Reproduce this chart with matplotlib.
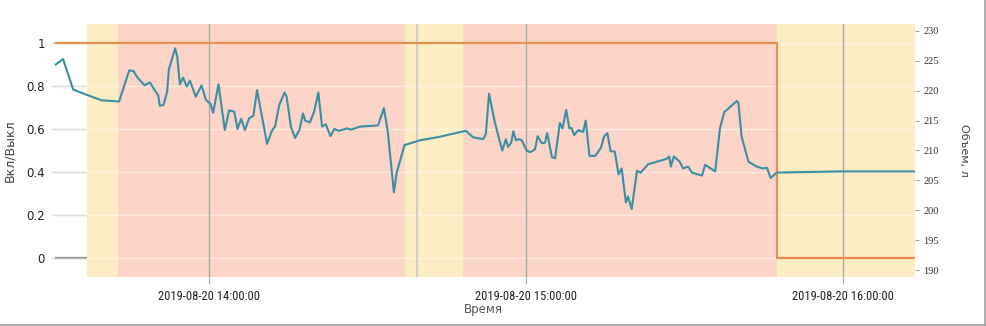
import numpy as np
import pandas as pd
import matplotlib
matplotlib.use("Agg")
import matplotlib.pyplot as plt
import matplotlib.dates as mdates
from matplotlib.lines import Line2D
from matplotlib import font_manager

# --- data (time given as minutes after 2019-08-20 13:00) ---
base = pd.Timestamp("2019-08-20 13:00:00")

vol_min = [31.0, 32.4, 34.3, 36.9, 39.7, 43.0, 44.9, 45.7, 46.4, 47.8, 48.8, 50.4, 50.7, 51.4,
           52.1, 52.4, 53.6, 54.0, 54.5, 55.1, 55.8, 56.4, 57.5, 58.6, 59.4, 60.3, 60.8, 61.8,
           63.0, 63.8, 64.8, 65.4, 66.1, 66.8, 67.6, 68.4, 69.1, 69.8, 71.0, 71.9, 72.5, 73.3,
           74.3, 74.7, 75.5, 76.3, 77.1, 77.8, 78.2, 79.1, 79.9, 80.7, 81.4, 82.1, 83.0, 83.7,
           84.6, 86.1, 86.9, 88.6, 92.0, 93.1, 93.8, 95.0, 95.5, 97.0, 99.9, 103.7, 108.1, 108.6,
           110.0, 111.9, 112.4, 113.0, 114.0, 114.8, 115.5, 116.2, 116.6, 117.2, 117.6, 118.1,
           118.7, 119.2, 120.1, 120.8, 121.7, 122.2, 123.0, 123.6, 124.0, 124.9, 125.5, 126.4,
           126.9, 127.6, 128.2, 128.6, 129.1, 129.9, 130.8, 131.3, 132.0, 133.1, 134.2, 134.8,
           135.4, 136.0, 136.8, 137.5, 138.1, 138.9, 139.3, 140.0, 141.0, 141.7, 143.1, 146.6,
           147.1, 147.4, 148.0, 149.1, 149.7, 150.7, 151.4, 153.3, 153.9, 155.8, 156.7, 157.5,
           159.9, 160.2, 160.8, 162.1, 163.7, 164.8, 165.6, 166.3, 167.4, 179.4, 193.6]
volume = [224.4, 225.3, 220.2, 219.3, 218.4, 218.2, 223.4, 223.3, 222.3, 220.9, 221.4, 219.2, 217.5, 217.6,
          219.9, 223.5, 227.1, 225.7, 221.1, 222.2, 220.7, 221.7, 219.0, 220.9, 218.5, 217.8, 216.3, 221.1,
          213.4, 216.7, 216.5, 213.6, 215.3, 213.4, 215.4, 215.8, 220.1, 216.8, 211.1, 213.3, 214.0, 217.6,
          219.7, 219.0, 214.0, 212.1, 213.4, 216.2, 215.0, 214.7, 216.5, 219.7, 214.0, 214.4, 212.4, 213.6,
          213.3, 213.7, 213.5, 214.0, 214.2, 217.1, 213.4, 203.0, 206.2, 210.9, 211.7, 212.3, 213.2, 213.3,
          212.2, 211.9, 212.8, 219.5, 215.1, 212.3, 210.0, 211.9, 210.6, 211.3, 213.2, 211.7,
          211.9, 211.7, 210.0, 209.7, 210.2, 212.4, 211.2, 211.3, 212.9, 208.9, 208.7, 214.6,
          213.7, 216.8, 213.7, 213.8, 212.6, 213.4, 213.1, 215.0, 209.1, 209.1, 210.5, 212.4,
          212.9, 209.9, 209.8, 206.0, 207.0, 201.3, 202.3, 200.2, 206.6, 206.3, 207.7, 208.6,
          209.0, 207.3, 209.0, 208.1, 207.0, 207.3, 206.3, 205.8, 207.6, 206.5, 213.7, 216.4,
          218.3, 217.9, 212.3, 208.1, 207.3, 207.0, 207.1, 205.4, 206.3, 206.5, 206.5]

pump_min = [31.0, 167.5, 193.6]
pump_state = [1, 0, 0]

other_min = [31.0, 193.6]
other_state = [0, 0]

# background periods
span_start = [36.9, 42.8, 97.1, 108.1, 167.5]
span_end = [42.8, 97.1, 108.1, 167.5, 193.6]
span_kind = ["y", "r", "y", "r", "y"]
marker_min = 99.4


def tm(mins):
    return base + pd.to_timedelta(np.asarray(mins, dtype=float), unit="min")


# pick a narrow face for the date labels if one is there
installed = {f.name for f in font_manager.fontManager.ttflist}
narrow = None
for nm in ["Liberation Sans Narrow", "Roboto Condensed", "DejaVu Sans Condensed", "Open Sans Condensed"]:
    if nm in installed:
        narrow = nm
        break

fig = plt.figure(figsize=(9.87, 3.26), dpi=100)
ax = fig.add_axes([0.0527, 0.1503, 0.8743, 0.7761])
ax2 = ax.twinx()

span_col = {"y": "#fdedc4", "r": "#fdd5c8"}

ax.plot(tm(other_min), other_state, color="#8a8a8a", lw=1.6, zorder=1)
for s, e, k in zip(span_start, span_end, span_kind):
    ax.axvspan(tm([s])[0], tm([e])[0], color=span_col[k], lw=0, zorder=2)

yticks = [0, 0.2, 0.4, 0.6, 0.8, 1]
for t in yticks:
    ax.axhline(t, color="#c4c4c4", lw=1.0, zorder=0.5)
    ax.axhline(t, color="white", lw=1.0, alpha=0.45, zorder=2.5)

ax.axvline(tm([marker_min])[0], color="#c8c8c8", lw=1.2, zorder=3)
for h in [14, 15, 16]:
    ax.axvline(base + pd.Timedelta(hours=h - 13), color="#a8a8a8", lw=1.0, zorder=3)

ax.plot(tm(pump_min), pump_state, color="#e8904f", lw=1.6, drawstyle="steps-post", zorder=4)

ax2.plot(tm(vol_min), volume, color="#3b8fa4", lw=1.5, zorder=5)

ax.set_xlim(tm([30.3])[0], tm([193.6])[0])
ax.set_ylim(-0.0884, 1.0884)
ax2.set_ylim(188.83, 231.17)

ax.set_yticks(yticks)
ax.set_yticklabels(["0", "0.2", "0.4", "0.6", "0.8", "1"])
ax2.set_yticks(np.arange(190, 231, 5))

ax.xaxis.set_major_locator(mdates.HourLocator())
ax.xaxis.set_major_formatter(mdates.DateFormatter("%Y-%m-%d %H:%M:%S"))

for a in (ax, ax2):
    for sp in a.spines.values():
        sp.set_visible(False)

ax.tick_params(axis="y", length=0, pad=5, labelsize=8.5, labelcolor="#222222")
ax.tick_params(axis="x", length=5, width=0.8, color="#a8a8a8", pad=4)
for lab in ax.get_xticklabels():
    if narrow:
        lab.set_family(narrow)
        lab.set_fontsize(9)
    else:
        lab.set_family("Liberation Sans")
        lab.set_fontsize(8)
        lab.set_fontstretch("condensed")
    lab.set_color("#222222")
ax2.tick_params(axis="y", length=3, width=0.6, color="#888888", pad=3, labelsize=7.5, labelcolor="#333333")
for lab in ax2.get_yticklabels():
    lab.set_family(["Liberation Serif", "DejaVu Serif"])

ax.set_ylabel("Вкл/Выкл", fontsize=9, color="#444444")
ax.set_xlabel("Время", fontsize=8.5, color="#555555", labelpad=0)
ax2.set_ylabel("Объем, л", fontsize=8, color="#444444", rotation=270, labelpad=22)
ax.yaxis.set_label_coords(-0.041, 0.5)

# outer frame (only right and bottom edges show in the image)
fig.add_artist(Line2D([0.9975, 0.9975], [0.0, 1.0], transform=fig.transFigure, color="#a0a0a0", lw=1.2))
fig.add_artist(Line2D([0.0, 1.0], [0.004, 0.004], transform=fig.transFigure, color="#a0a0a0", lw=1.2))

fig.savefig("out.png", dpi=100)
